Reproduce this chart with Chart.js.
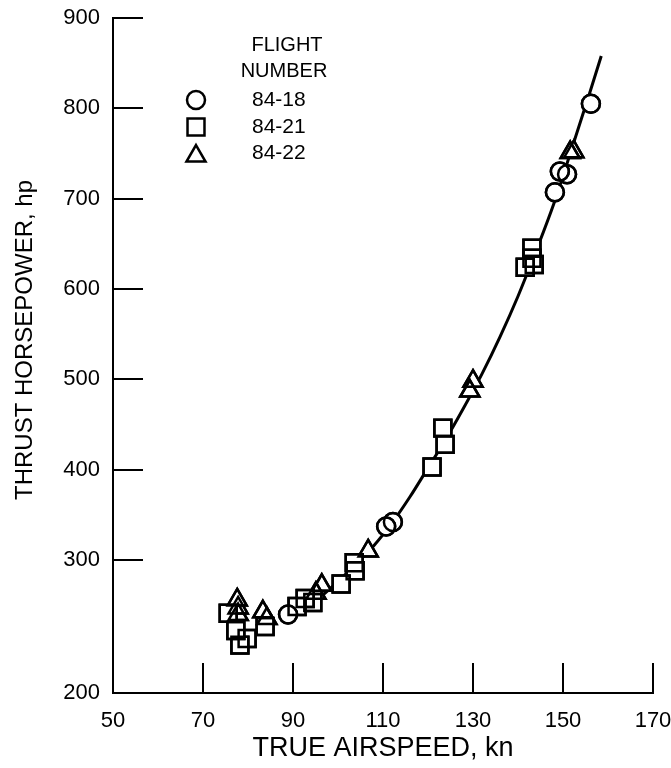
<!DOCTYPE html>
<html>
<head>
<meta charset="utf-8">
<script src="https://cdn.jsdelivr.net/npm/chart.js@4/dist/chart.umd.min.js"></script>
<style>
  html, body { margin: 0; padding: 0; background: #fff; }
  #wrap { width: 671px; height: 768px; }
</style>
</head>
<body>
<div id="wrap"><canvas id="c" width="671" height="768"></canvas></div>
<script>
// ---- data ----
const flight8418X = [156.2, 150.9, 149.3, 148.2, 112.2, 110.7, 88.9];
const flight8418Y = [805, 727, 730, 707, 342, 337, 259];

const flight8421X = [143.1, 143.1, 143.6, 141.6, 123.3, 123.8, 120.9, 103.6, 103.8, 100.7, 94.4, 92.7, 90.9, 83.8, 79.8, 78.2, 77.3, 75.6];
const flight8421Y = [645, 634, 627, 624, 446, 428, 403, 298, 292, 282, 268, 271, 265, 250, 241, 236, 247, 260];

const flight8422X = [152.4, 151.6, 130.0, 129.3, 106.7, 96.4, 95.1, 84.2, 83.3, 77.8, 77.8, 77.6];
const flight8422Y = [752, 751, 498, 487, 310, 281, 275, 256, 261, 259, 264, 270];

const curveX = [89, 92, 96, 100, 104, 108, 112, 116, 120, 124, 128, 132, 136, 140, 144, 148, 152, 156, 158.5];
const curveY = [258, 263, 272, 284, 297, 316, 341, 370, 402, 434, 469, 506, 547, 592, 642, 695, 756, 818, 858];

const xTicks = [50, 70, 90, 110, 130, 150, 170];
const yTicks = [200, 300, 400, 500, 600, 700, 800, 900];
const legendLabels = ['84-18', '84-21', '84-22'];
const legendTitle = ['FLIGHT', 'NUMBER'];
const xTitle = 'TRUE AIRSPEED, kn';
const yTitle = 'THRUST HORSEPOWER, hp';

// y axis has a broken (expanded) segment between 200 and 300
const BREAK_VALUE = 300;
const BREAK_FRAC = 133 / 675;

function zip(xs, ys) { return xs.map((x, i) => ({ x: x, y: ys[i] })); }

class BrokenLinearScale extends Chart.LinearScale {
  _dec(v) {
    const min = this.min, max = this.max;
    if (v <= BREAK_VALUE) return (v - min) / (BREAK_VALUE - min) * BREAK_FRAC;
    return BREAK_FRAC + (v - BREAK_VALUE) / (max - BREAK_VALUE) * (1 - BREAK_FRAC);
  }
  getPixelForValue(value) {
    if (value === null || value === undefined) return NaN;
    return this.getPixelForDecimal(this._dec(value));
  }
  getValueForPixel(pixel) {
    const d = this.getDecimalForPixel(pixel);
    if (d <= BREAK_FRAC) return this.min + d / BREAK_FRAC * (BREAK_VALUE - this.min);
    return BREAK_VALUE + (d - BREAK_FRAC) / (1 - BREAK_FRAC) * (this.max - BREAK_VALUE);
  }
}
BrokenLinearScale.id = 'brokenLinear';
BrokenLinearScale.defaults = { ticks: { callback: (v) => String(v) } };
Chart.register(BrokenLinearScale);

const FONT = "'Liberation Sans', Arial, sans-serif";
const BW = 2.5;

const markerStyle = {
  borderColor: '#000',
  backgroundColor: '#fff',
  borderWidth: BW,
  showLine: false
};

// inward tick marks, legend, y title, and outline re-draw
const decorPlugin = {
  id: 'decor',
  afterDatasetsDraw(chart) {
    const ctx = chart.ctx;
    chart.data.datasets.forEach((ds, i) => {
      if (ds.showLine) return;
      const meta = chart.getDatasetMeta(i);
      meta.data.forEach((el) => {
        ctx.save();
        ctx.strokeStyle = '#000';
        ctx.lineWidth = BW;
        ctx.fillStyle = 'rgba(0,0,0,0)';
        Chart.helpers.drawPoint(ctx, { pointStyle: ds.pointStyle, radius: ds.pointRadius, rotation: 0, borderWidth: BW }, el.x, el.y);
        ctx.restore();
      });
    });
  },
  afterDraw(chart) {
    const ctx = chart.ctx;
    const xs = chart.scales.x, ys = chart.scales.y;
    const area = chart.chartArea;
    ctx.save();
    ctx.strokeStyle = '#000';
    ctx.lineWidth = 2;
    ctx.lineCap = 'butt';
    const TL = 30;
    ys.ticks.forEach((t) => {
      if (t.value === yTicks[0]) return;
      const py = Math.round(ys.getPixelForValue(t.value));
      ctx.beginPath(); ctx.moveTo(area.left, py); ctx.lineTo(area.left + TL, py); ctx.stroke();
    });
    xs.ticks.forEach((t) => {
      if (t.value === xTicks[0]) return;
      const px = Math.round(xs.getPixelForValue(t.value));
      ctx.beginPath(); ctx.moveTo(px, area.bottom); ctx.lineTo(px, area.bottom - TL); ctx.stroke();
    });
    // y axis title
    ctx.save();
    ctx.fillStyle = '#000';
    ctx.font = '24px ' + FONT;
    ctx.textAlign = 'center';
    ctx.textBaseline = 'middle';
    ctx.translate(25, 340);
    ctx.rotate(-Math.PI / 2);
    ctx.fillText(yTitle, 0, 0);
    ctx.restore();
    // legend
    ctx.fillStyle = '#000';
    ctx.textBaseline = 'middle';
    ctx.textAlign = 'center';
    ctx.font = '20px ' + FONT;
    ctx.fillText(legendTitle[0], 287, 45);
    ctx.fillText(legendTitle[1], 284, 71);
    ctx.textAlign = 'left';
    ctx.font = '21px ' + FONT;
    const symY = [100, 127, 153];
    chart.data.datasets.forEach((ds, i) => {
      if (ds.showLine) return;
      ctx.save();
      ctx.strokeStyle = '#000';
      ctx.fillStyle = '#fff';
      ctx.lineWidth = BW;
      Chart.helpers.drawPoint(ctx, { pointStyle: ds.pointStyle, radius: ds.pointRadius, rotation: 0, borderWidth: BW }, 196, symY[i] + (ds.pointStyle === 'triangle' ? 3 : 0));
      ctx.restore();
      ctx.fillStyle = '#000';
      ctx.fillText(legendLabels[i], 252, symY[i]);
    });
    ctx.restore();
  }
};

new Chart(document.getElementById('c'), {
  type: 'scatter',
  data: {
    datasets: [
      Object.assign({ label: legendLabels[0], data: zip(flight8418X, flight8418Y), pointStyle: 'circle', pointRadius: 9 }, markerStyle),
      Object.assign({ label: legendLabels[1], data: zip(flight8421X, flight8421Y), pointStyle: 'rect', pointRadius: 12 }, markerStyle),
      Object.assign({ label: legendLabels[2], data: zip(flight8422X, flight8422Y), pointStyle: 'triangle', pointRadius: 11 }, markerStyle),
      {
        label: 'fit',
        data: zip(curveX, curveY),
        showLine: true,
        pointRadius: 0,
        borderColor: '#000',
        borderWidth: 3,
        cubicInterpolationMode: 'monotone',
        fill: false,
        order: 10
      }
    ]
  },
  options: {
    responsive: false,
    animation: false,
    layout: { padding: { top: 18, right: 18, left: 0, bottom: 0 } },
    plugins: { legend: { display: false }, tooltip: { enabled: false } },
    scales: {
      x: {
        type: 'linear',
        min: xTicks[0], max: xTicks[xTicks.length - 1],
        afterBuildTicks: (s) => { s.ticks = xTicks.map(v => ({ value: v })); },
        afterFit: (s) => { s.height = 75; s.paddingLeft = 0; s.paddingRight = 0; },
        grid: { display: false, drawTicks: false },
        border: { display: true, color: '#000', width: 2 },
        ticks: { color: '#000', font: { family: FONT, size: 22 }, padding: 15, maxRotation: 0, autoSkip: false },
        title: { display: true, text: xTitle, color: '#000', font: { family: FONT, size: 27 }, padding: { top: 0, bottom: 3 } }
      },
      y: {
        type: 'brokenLinear',
        min: yTicks[0], max: yTicks[yTicks.length - 1],
        afterBuildTicks: (s) => { s.ticks = yTicks.map(v => ({ value: v })); },
        afterFit: (s) => { s.width = 113; s.paddingTop = 0; s.paddingBottom = 0; },
        grid: { display: false, drawTicks: false },
        border: { display: true, color: '#000', width: 2 },
        ticks: { color: '#000', font: { family: FONT, size: 22 }, padding: 13, autoSkip: false },
        title: { display: false }
      }
    }
  },
  plugins: [decorPlugin]
});
</script>
</body>
</html>
